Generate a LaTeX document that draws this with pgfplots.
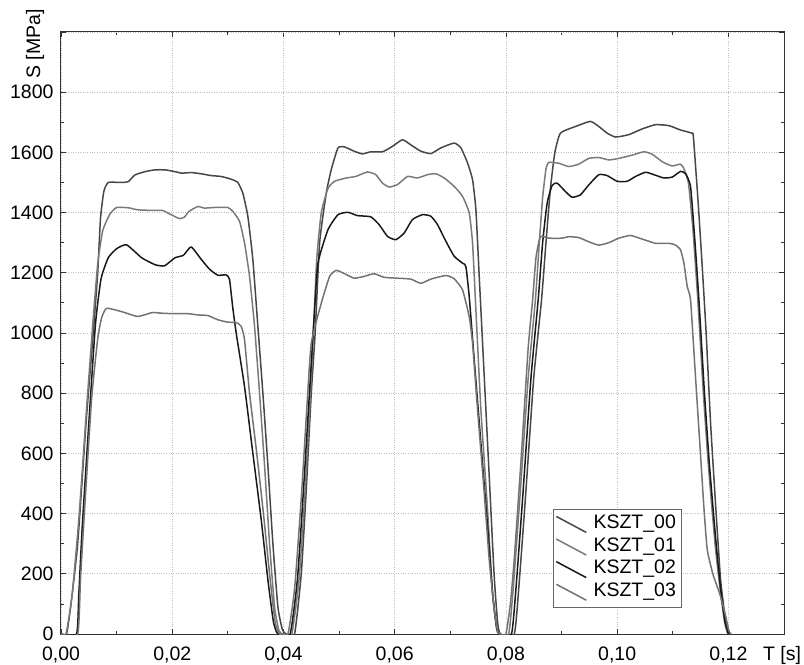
\documentclass[border=0pt]{standalone}
\usepackage{fontspec}
\setmainfont{Liberation Sans}
\usepackage{pgfplots}
\pgfplotsset{compat=1.18}

\begin{document}
\begin{tikzpicture}[font=\fontsize{19.5bp}{23bp}\selectfont]
\begin{axis}[
    scale only axis,
    width=723bp, height=602bp,
    xmin=0, xmax=0.13, ymin=0, ymax=2000,
    xtick={0,0.02,...,0.12},
    xticklabels={{0,00},{0,02},{0,04},{0,06},{0,08},{0,10},{0,12}},
    ytick={0,200,...,1800},
    minor x tick num=1, minor y tick num=1,
    extra y ticks={2000}, extra y tick labels={},
    tick align=inside,
    major tick length=5bp, minor tick length=3bp,
    tick style={black!80, line width=0.8bp},
    xtick pos=both, ytick pos=both,
    axis line style={black!80, line width=1bp},
    /pgf/number format/assume math mode=true,
    /pgf/number format/1000 sep={},
    grid=major,
    major grid style={dotted, black!25, line width=0.7bp},
    xticklabel style={yshift=-9bp},
    yticklabel style={xshift=-4bp},
    xlabel={T [s]},
    xlabel style={at={(rel axis cs:1,0)}, anchor=base, yshift=-26bp, xshift=-2bp},
    ylabel={S [MPa]},
    ylabel style={at={([xshift=-26bp,yshift=-12bp]rel axis cs:0,1)}, anchor=center},
    legend style={at={(rel axis cs:0.680,0.2076)}, anchor=north west,
        draw=black!60, line width=0.8bp, fill=white,
        inner xsep=2.5bp, inner ysep=5bp, row sep=2.6bp,
        nodes={inner xsep=2.5bp, inner ysep=0bp, text height=14bp, text depth=6bp}},
    legend cell align=left,
    legend image code/.code={\draw[#1] (0bp,8bp) -- (30bp,-8bp); \path (34bp,0bp);},
    every axis plot/.append style={line width=1.5bp, line join=round, smooth, tension=0.3},
]
% KSZT_00
\addplot[black!72] coordinates {
(0,0)(0.0010,0)(0.0018,100)(0.0030,300)(0.0045,700)(0.0058,1000)(0.0066,1200)(0.0071,1380)(0.0077,1470)(0.0085,1500)(0.0109,1500)(0.0121,1503)(0.0133,1525)(0.0151,1536)(0.0169,1542)(0.0187,1542)(0.0205,1536)(0.0217,1531)(0.0234,1533)(0.0252,1529)(0.0270,1523)(0.0288,1520)(0.0306,1511)(0.0318,1500)(0.0327,1464)(0.0336,1387)(0.0345,1243)(0.0354,1022)(0.0363,800)(0.0372,560)(0.0381,300)(0.0390,90)(0.0398,15)(0.0405,0)
(0.0420,0)(0.0432,200)(0.0441,480)(0.0450,800)(0.0457,1000)(0.0465,1299)(0.0477,1465)(0.0486,1543)(0.0498,1615)(0.0510,1618)(0.0527,1604)(0.0542,1595)(0.0557,1602)(0.0578,1602)(0.0596,1620)(0.0614,1642)(0.0629,1625)(0.0647,1604)(0.0665,1596)(0.0683,1615)(0.0707,1631)(0.0719,1615)(0.0731,1565)(0.0740,1509)(0.0746,1410)(0.0752,1188)(0.0761,856)(0.0770,523)(0.0779,190)(0.0785,40)(0.0790,0)
(0.0815,0)(0.0823,150)(0.0835,450)(0.0850,850)(0.0864,1110)(0.0872,1300)(0.0880,1480)(0.0888,1600)(0.0898,1664)(0.0925,1686)(0.0952,1703)(0.0967,1686)(0.0982,1664)(0.0997,1651)(0.1021,1659)(0.1045,1678)(0.1069,1692)(0.1093,1689)(0.1113,1675)(0.1134,1664)(0.1137,1653)(0.1145,1450)(0.1152,1250)(0.1160,1000)(0.1168,700)(0.1178,400)(0.1186,180)(0.1194,60)(0.1202,0)
};
\addlegendentry{KSZT\_00\hspace{5bp}}
% KSZT_01
\addplot[black!52] coordinates {
(0,0)(0.0009,0)(0.0020,130)(0.0032,380)(0.0046,750)(0.0058,1050)(0.0066,1230)(0.0075,1340)(0.0088,1395)(0.0100,1417)(0.0121,1416)(0.0139,1409)(0.0169,1407)(0.0183,1407)(0.0198,1393)(0.0213,1380)(0.0222,1385)(0.0230,1404)(0.0246,1420)(0.0258,1415)(0.0276,1417)(0.0300,1417)(0.0309,1404)(0.0321,1371)(0.0330,1299)(0.0339,1188)(0.0348,1022)(0.0357,800)(0.0366,560)(0.0375,300)(0.0384,90)(0.0392,10)(0.0400,0)
(0.0415,0)(0.0428,180)(0.0438,450)(0.0448,780)(0.0455,1050)(0.0460,1250)(0.0468,1400)(0.0480,1480)(0.0492,1504)(0.0513,1515)(0.0530,1520)(0.0551,1535)(0.0566,1526)(0.0578,1498)(0.0590,1485)(0.0605,1493)(0.0623,1520)(0.0641,1515)(0.0659,1526)(0.0674,1529)(0.0689,1515)(0.0707,1487)(0.0722,1454)(0.0734,1399)(0.0740,1299)(0.0746,1077)(0.0755,745)(0.0767,412)(0.0776,135)(0.0783,20)(0.0788,0)
(0.0805,0)(0.0813,150)(0.0825,450)(0.0840,850)(0.0853,1110)(0.0860,1300)(0.0866,1450)(0.0872,1545)(0.0877,1567)(0.0895,1564)(0.0913,1553)(0.0931,1561)(0.0949,1580)(0.0967,1583)(0.0985,1575)(0.1003,1580)(0.1027,1591)(0.1048,1602)(0.1063,1594)(0.1081,1569)(0.1099,1555)(0.1113,1561)(0.1119,1550)(0.1128,1500)(0.1136,1350)(0.1145,1110)(0.1155,800)(0.1164,560)(0.1176,300)(0.1185,150)(0.1193,40)(0.1199,0)
};
\addlegendentry{KSZT\_01\hspace{5bp}}
% KSZT_02
\addplot[black!90] coordinates {
(0,0)(0.0028,0)(0.0032,130)(0.0038,350)(0.0050,700)(0.0062,1030)(0.0072,1180)(0.0085,1250)(0.0100,1280)(0.0118,1293)(0.0145,1250)(0.0169,1227)(0.0186,1223)(0.0205,1250)(0.0220,1258)(0.0234,1286)(0.0252,1245)(0.0267,1212)(0.0282,1192)(0.0297,1193)(0.0303,1178)(0.0309,1082)(0.0315,1000)(0.0330,822)(0.0345,600)(0.0360,380)(0.0372,180)(0.0382,40)(0.0390,0)
(0.0412,0)(0.0425,180)(0.0435,450)(0.0445,750)(0.0455,1050)(0.0462,1232)(0.0480,1343)(0.0498,1393)(0.0516,1401)(0.0533,1390)(0.0557,1386)(0.0572,1360)(0.0587,1321)(0.0602,1310)(0.0617,1332)(0.0632,1377)(0.0650,1393)(0.0665,1388)(0.0677,1360)(0.0692,1305)(0.0707,1255)(0.0722,1232)(0.0728,1221)(0.0734,1121)(0.0743,911)(0.0755,634)(0.0767,357)(0.0776,135)(0.0783,25)(0.0788,0)
(0.0810,0)(0.0818,150)(0.0830,450)(0.0845,850)(0.0858,1110)(0.0866,1300)(0.0874,1430)(0.0883,1490)(0.0892,1498)(0.0907,1470)(0.0919,1451)(0.0934,1459)(0.0949,1492)(0.0967,1526)(0.0982,1523)(0.1000,1504)(0.1018,1504)(0.1033,1520)(0.1051,1534)(0.1066,1526)(0.1084,1515)(0.1099,1518)(0.1114,1537)(0.1123,1529)(0.1132,1486)(0.1140,1300)(0.1147,1110)(0.1157,800)(0.1166,560)(0.1177,320)(0.1186,150)(0.1194,40)(0.1200,0)
};
\addlegendentry{KSZT\_02\hspace{5bp}}
% KSZT_03
\addplot[black!55] coordinates {
(0,0)(0.0030,0)(0.0035,180)(0.0042,400)(0.0055,780)(0.0066,980)(0.0073,1050)(0.0082,1082)(0.0109,1071)(0.0138,1055)(0.0164,1068)(0.0179,1066)(0.0202,1064)(0.0229,1064)(0.0246,1060)(0.0264,1058)(0.0282,1044)(0.0300,1036)(0.0315,1035)(0.0324,1022)(0.0330,978)(0.0339,800)(0.0352,600)(0.0364,400)(0.0375,200)(0.0385,40)(0.0393,0)
(0.0408,0)(0.0420,150)(0.0432,450)(0.0442,750)(0.0450,966)(0.0468,1099)(0.0483,1188)(0.0495,1208)(0.0510,1197)(0.0527,1182)(0.0545,1188)(0.0563,1197)(0.0581,1185)(0.0605,1182)(0.0629,1179)(0.0647,1165)(0.0665,1179)(0.0692,1191)(0.0707,1180)(0.0722,1143)(0.0734,1054)(0.0740,966)(0.0749,745)(0.0761,468)(0.0770,246)(0.0779,80)(0.0785,10)(0.0790,0)
(0.0800,0)(0.0808,100)(0.0815,250)(0.0828,600)(0.0840,950)(0.0848,1110)(0.0854,1250)(0.0862,1320)(0.0877,1315)(0.0901,1315)(0.0913,1320)(0.0931,1317)(0.0949,1303)(0.0967,1292)(0.0985,1300)(0.1003,1315)(0.1024,1324)(0.1045,1312)(0.1069,1298)(0.1093,1298)(0.1105,1292)(0.1114,1276)(0.1120,1232)(0.1126,1154)(0.1132,1110)(0.1140,880)(0.1148,650)(0.1156,420)(0.1162,280)(0.1172,200)(0.1185,130)(0.1195,60)(0.1201,10)(0.1205,0)
};
\addlegendentry{KSZT\_03\hspace{5bp}}
\end{axis}
\pgfresetboundingbox
\path ([shift={(-61bp,-31bp)}]current axis.south west) rectangle ([shift={(20bp,32bp)}]current axis.north east);
\end{tikzpicture}
\end{document}
